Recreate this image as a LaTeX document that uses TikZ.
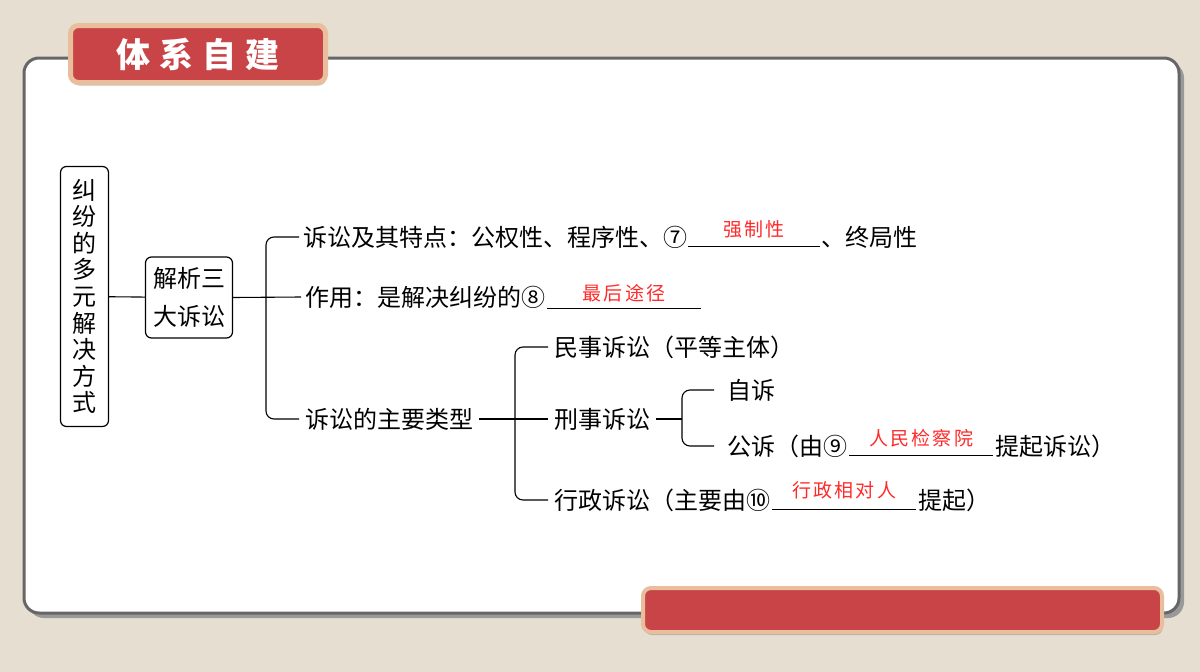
\documentclass[tikz,border=0pt]{standalone}
\usepackage{fontspec}
\usetikzlibrary{positioning,shadows}
\newfontfamily\cjk{Noto Sans CJK SC}
\newfontfamily\cjkred{Noto Sans CJK SC}[LetterSpace=12]
\definecolor{paper}{HTML}{E6DED1}
\definecolor{titlered}{HTML}{C94446}
\definecolor{titleedge}{HTML}{E8BE9C}
\definecolor{anscolor}{HTML}{FF2A2A}
\begin{document}
\begin{tikzpicture}[x=1pt,y=-1pt,
  txt/.style={inner sep=0pt,anchor=west,font=\cjk\fontsize{24}{26}\selectfont},
  box/.style={draw,rounded corners=6pt,line width=1.2pt,inner sep=0pt,align=center},
  gap/.style={minimum width=#1,minimum height=18pt,inner sep=0pt},
  ans/.style={text=anscolor,inner sep=0pt,font=\cjkred\fontsize{19}{20}\selectfont},
  line/.style={line width=1.1pt},
  bracket/.style={line width=1.1pt,rounded corners=8pt},
  banner/.style={fill=titlered,draw=titleedge,rounded corners=8pt,
    drop shadow={shadow xshift=1pt,shadow yshift=-3pt,fill=black!45}}]
\fill[paper] (0,0) rectangle (1200,672);
\useasboundingbox (0,0) rectangle (1200,672);
\fill[black!40,rounded corners=16pt] (28,62) rectangle (1184,618);
\draw[line width=3pt,draw=black!60,fill=white,rounded corners=15pt] (24,58) rectangle (1179,613);
\node[banner,line width=5pt,minimum width=255pt,minimum height=57pt] (title) at (198,54)
  {\color{white}\cjk\bfseries\fontsize{34}{34}\selectfont 体\hspace{9pt}系\hspace{9pt}自\hspace{9pt}建};
\node[banner,line width=4pt,minimum width=519pt,minimum height=44pt] (bar) at (902.5,610) {};
\node[box,minimum width=48pt,minimum height=260pt,font=\cjk\fontsize{24}{26.6}\selectfont] (root) at (84.5,296.5)
  {纠\\纷\\的\\多\\元\\解\\决\\方\\式};
\node[box,minimum width=87pt,minimum height=81pt,font=\cjk\fontsize{24}{38}\selectfont] (jx) at (189,297.5)
  {解析三\\大诉讼};
\draw[line] (root) -- (jx);
\node[txt] (tz) at (303,237) {诉讼及其特点：公权性、程序性、⑦};
\node[gap=131pt,right=1pt of tz] (g7) {};
\node[txt,right=1pt of g7] (tz2) {、终局性};
\node[ans] at ([yshift=8pt]g7.center) {强制性};
\draw[line] (g7.south west) -- (g7.south east);
\node[txt] (zy) at (305,297) {作用：是解决纠纷的⑧};
\node[gap=153pt,right=2pt of zy,yshift=-2pt] (g8) {};
\node[ans] at ([yshift=6pt]g8.center) {最后途径};
\draw[line] (g8.south west) -- (g8.south east);
\node[txt] (lx) at (305,419) {诉讼的主要类型};
\coordinate (k1) at (266,297);
\draw[line] (jx.east) -- ([xshift=-4pt]zy.west);
\draw[bracket] ([xshift=-4pt]tz.west) -| (k1) |- ([xshift=-6pt]lx.west);
\node[txt] (ms) at (554,347) {民事诉讼（平等主体）};
\node[txt] (xs) at (554,419) {刑事诉讼};
\node[txt] (xz) at (554,500) {行政诉讼（主要由⑩};
\node[gap=143pt,right=2pt of xz] (g10) {};
\node[txt,right=2pt of g10] (xz2) {提起）};
\node[ans] at ([yshift=10pt]g10.center) {行政相对人};
\draw[line] (g10.south west) -- (g10.south east);
\coordinate (k2) at (515,419);
\draw[line] ([xshift=6pt]lx.east) -- ([xshift=-6pt]xs.west);
\draw[bracket] ([xshift=-6pt]ms.west) -| (k2) |- ([xshift=-6pt]xz.west);
\node[txt] (zs) at (727,390) {自诉};
\node[txt] (gs) at (727,446) {公诉（由⑨};
\node[gap=143pt,right=2pt of gs] (g9) {};
\node[txt,right=2pt of g9] (gs2) {提起诉讼）};
\node[ans] at ([yshift=8pt]g9.center) {人民检察院};
\draw[line] (g9.south west) -- (g9.south east);
\coordinate (k3) at (682,419);
\draw[line] ([xshift=6pt]xs.east) -- (k3);
\draw[bracket] ([xshift=-13pt]zs.west) -| (k3) |- ([xshift=-13pt]gs.west);
\end{tikzpicture}
\end{document}
